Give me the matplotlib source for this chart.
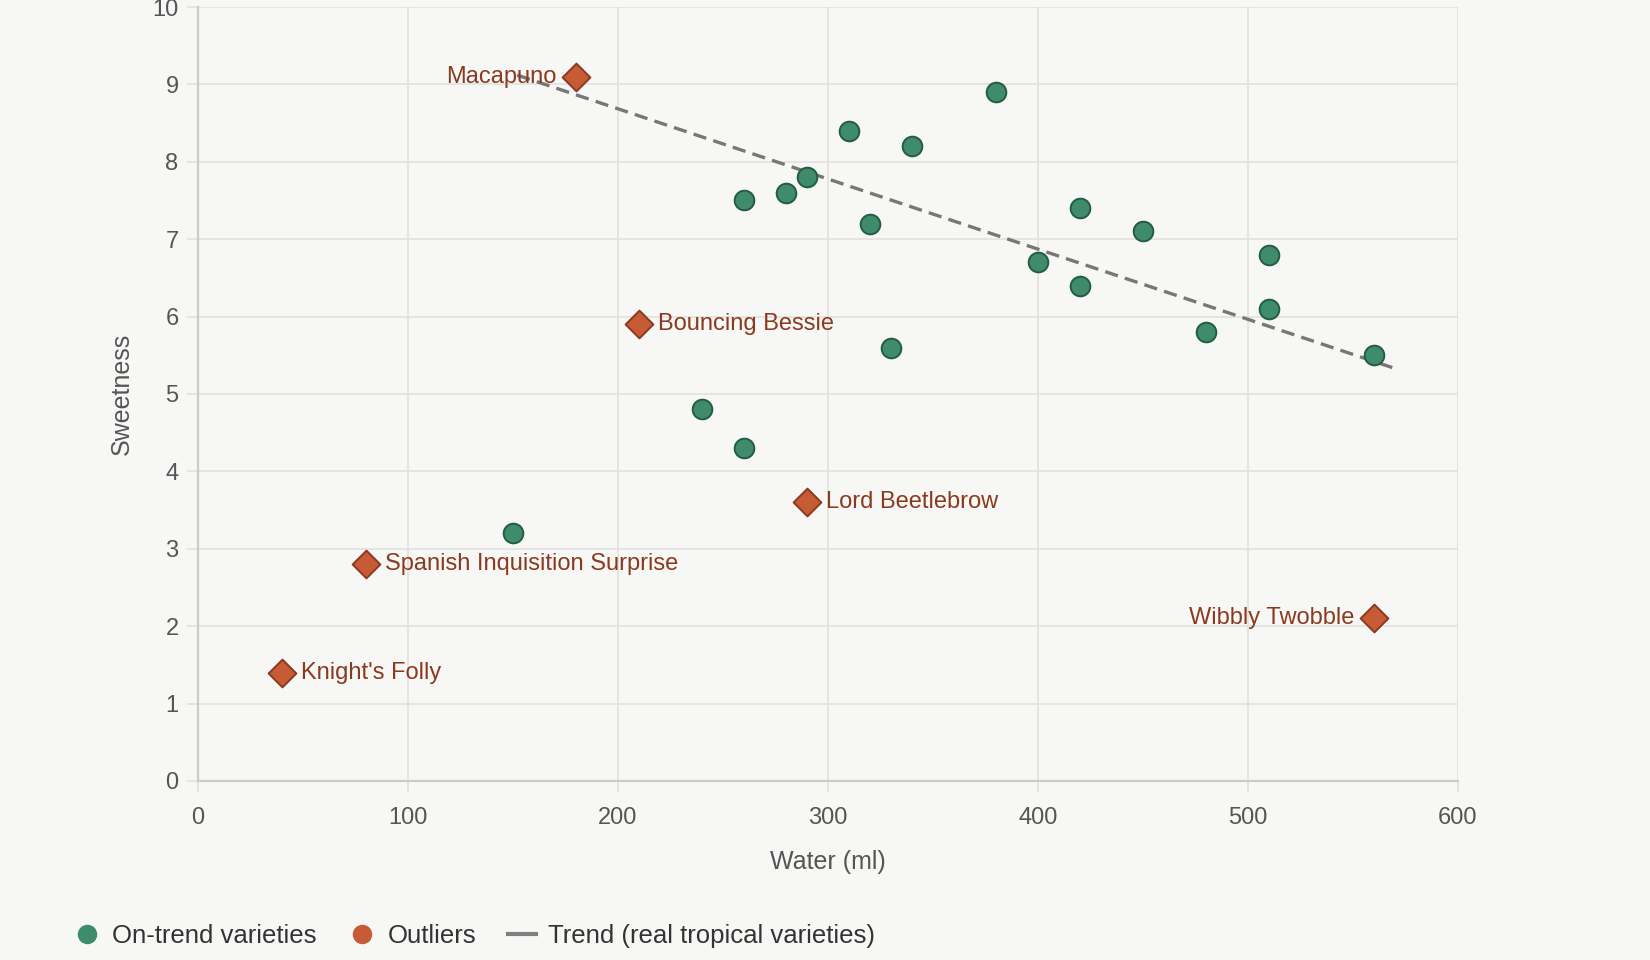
import matplotlib
matplotlib.use("Agg")
import matplotlib.pyplot as plt
from matplotlib.lines import Line2D

# Data
ontrend_water = [150, 240, 260, 260, 280, 290, 310, 320, 330, 340, 380, 400, 420, 420, 450, 480, 510, 510, 560]
ontrend_sweet = [3.2, 4.8, 4.3, 7.5, 7.6, 7.8, 8.4, 7.2, 5.6, 8.2, 8.9, 6.7, 7.4, 6.4, 7.1, 5.8, 6.8, 6.1, 5.5]

outlier_names = ["Macapuno", "Bouncing Bessie", "Lord Beetlebrow", "Spanish Inquisition Surprise",
                 "Knight's Folly", "Wibbly Twobble"]
outlier_water = [180, 210, 290, 80, 40, 560]
outlier_sweet = [9.1, 5.9, 3.6, 2.8, 1.4, 2.1]
outlier_label_side = ["left", "right", "right", "right", "right", "left"]

trend_x = [152, 570]
trend_y = [9.12, 5.33]

x_ticks = [0, 100, 200, 300, 400, 500, 600]
y_ticks = [0, 1, 2, 3, 4, 5, 6, 7, 8, 9, 10]

BG = "#F7F7F5"
GREEN = "#3E8C6B"
GREEN_EDGE = "#245C42"
ORANGE = "#C65B36"
ORANGE_EDGE = "#8A3A1F"
LABEL = "#8A3A1F"
GRID = "#E2E2E0"
AXIS = "#CBCBC9"
TXT = "#555555"

plt.rcParams['font.family'] = ['Liberation Sans', 'DejaVu Sans']

fig = plt.figure(figsize=(16.5, 9.6), dpi=100, facecolor=BG)
ax = fig.add_axes([0.12, 0.1865, 0.7636, 0.8062], facecolor=BG)

ax.set_xlim(0, 600)
ax.set_ylim(0, 10)
ax.set_xticks(x_ticks)
ax.set_yticks(y_ticks)
ax.grid(True, color=GRID, linewidth=1.3, zorder=0)
ax.set_axisbelow(True)
for s in ["top", "right"]:
    ax.spines[s].set_visible(False)
for s in ["left", "bottom"]:
    ax.spines[s].set_color(AXIS)
    ax.spines[s].set_linewidth(1.6)
ax.tick_params(axis='both', colors=GRID, labelcolor=TXT, labelsize=17, length=8, width=1.3)
ax.tick_params(axis='x', pad=11)
ax.tick_params(axis='y', pad=6)

ax.set_xlabel("Water (ml)", fontsize=18, color=TXT, labelpad=15)
ax.set_ylabel("Sweetness", fontsize=18, color=TXT, labelpad=13)

ax.plot(trend_x, trend_y, color="#777777", linewidth=2.4, dashes=(4, 2.2), zorder=2)

ax.scatter(ontrend_water, ontrend_sweet, s=200, color=GREEN, edgecolor=GREEN_EDGE,
           linewidth=1.4, zorder=3)
ax.scatter(outlier_water, outlier_sweet, s=200, marker='D', color=ORANGE,
           edgecolor=ORANGE_EDGE, linewidth=1.4, zorder=4)

for name, x, y, side in zip(outlier_names, outlier_water, outlier_sweet, outlier_label_side):
    off = 14 if side == "right" else -14
    ha = "left" if side == "right" else "right"
    ax.annotate(name, (x, y), xytext=(off, 0), textcoords="offset points",
                ha=ha, va="center", fontsize=17, color=LABEL, zorder=5)

handles = [
    Line2D([], [], marker='o', linestyle='none', markersize=13, markerfacecolor=GREEN,
           markeredgecolor=GREEN),
    Line2D([], [], marker='o', linestyle='none', markersize=13, markerfacecolor=ORANGE,
           markeredgecolor=ORANGE),
    Line2D([], [], color="#808080", linewidth=3),
]
labels = ["On-trend varieties", "Outliers", "Trend (real tropical varieties)"]
leg = fig.legend(handles, labels, loc="center left", bbox_to_anchor=(0.030, 0.025), ncol=3,
                 frameon=False, fontsize=18.5, handlelength=1.1, handletextpad=0.45,
                 columnspacing=1.22, labelcolor="#333333")

fig.savefig("out.png", dpi=100, facecolor=BG)
